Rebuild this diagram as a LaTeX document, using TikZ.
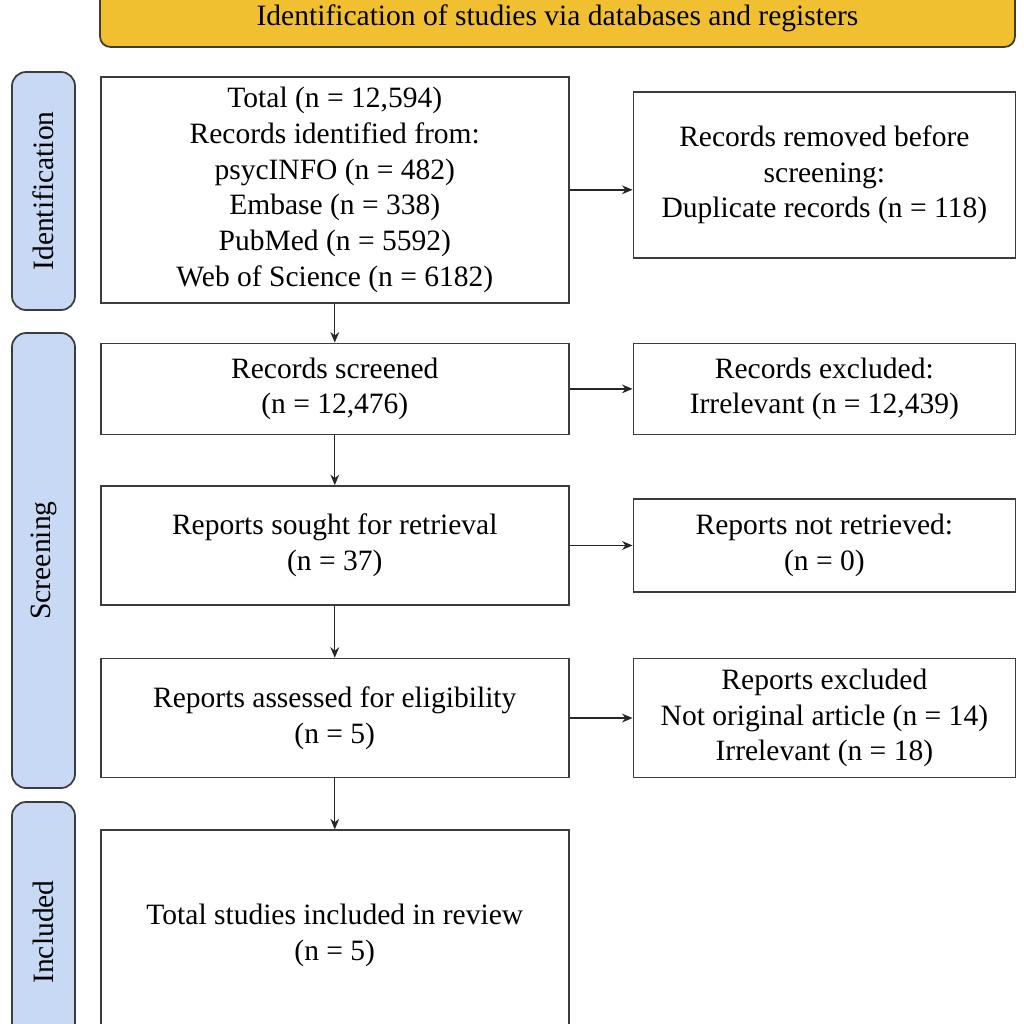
\documentclass[tikz,border=0pt]{standalone}
\usepackage{fontspec}
\setmainfont{Liberation Serif}
\usepackage{tikz}
\usetikzlibrary{arrows.meta, positioning}
\definecolor{bannerfill}{RGB}{240,192,48}
\definecolor{phasefill}{RGB}{199,217,245}
\definecolor{edgegray}{RGB}{60,60,60}
\tikzset{
  banner/.style = {
    rectangle, rounded corners=6pt, draw=edgegray, line width=1pt,
    fill=bannerfill, minimum width=18.3cm, minimum height=1.16cm,
    text centered
  },
  phase/.style = {
    rectangle, rounded corners=8pt, draw=edgegray, line width=1pt,
    fill=phasefill, rotate=90, minimum height=1.26cm,
    text centered
  },
  mainbox/.style = {
    rectangle, draw=edgegray, line width=0.9pt, fill=white,
    minimum width=9.36cm, text centered, align=center, inner sep=0pt
  },
  sidebox/.style = {
    rectangle, draw=edgegray, line width=0.9pt, fill=white,
    minimum width=7.64cm, text centered, align=center, inner sep=0pt
  },
  myarrow/.style = {-{Stealth[length=6pt,width=5pt]}, line width=0.8pt, black!85}
}

\begin{document}
\begin{tikzpicture}[
  node distance = 1cm and 1.26cm,   % vertical gap, horizontal gap
  every node/.style = {font=\fontsize{16.8}{20.3}\selectfont}
]
\clip (0,0) rectangle (20.48,-20.48);

% ----- HEADER AND PHASE BARS -----
\node[banner] (head) at (11.15,-0.36) {Identification of studies via databases and registers};
\node[phase, minimum width=4.76cm] (idbar)  at (0.87,-3.82)  {Identification};
\node[phase, minimum width=9.1cm]  (scrbar) at (0.87,-11.21) {Screening};
\node[phase, minimum width=5.2cm]  (incbar) at (0.87,-18.64) {Included};

% ----- NODES (main flow) -----
\node[mainbox, minimum height=4.52cm, anchor=north west] (ident) at (2.0,-1.52)
  {Total (n = 12,594)\\ Records identified from:\\ psycINFO (n = 482)\\ Embase (n = 338)\\ PubMed (n = 5592)\\ Web of Science (n = 6182)};
\node[mainbox, minimum height=1.82cm, below=0.78cm of ident]    (screened) {Records screened\\ (n = 12,476)};
\node[mainbox, minimum height=2.38cm, below=1.0cm of screened]  (sought)   {Reports sought for retrieval\\ (n = 37)};
\node[mainbox, minimum height=2.38cm, below=1.04cm of sought]   (assessed) {Reports assessed for eligibility\\ (n = 5)};
\node[mainbox, minimum height=4.2cm,  below=1.02cm of assessed] (included) {Total studies included in review\\ (n = 5)};

% ----- NODES (right column) -----
\node[sidebox, minimum height=3.32cm, right=of ident, yshift=0.3cm] (removed)
  {Records removed before\\ screening:\\ Duplicate records (n = 118)};
\node[sidebox, minimum height=1.82cm, right=of screened] (excluded) {Records excluded:\\ Irrelevant (n = 12,439)};
\node[sidebox, minimum height=1.86cm, right=of sought]   (notret)   {Reports not retrieved:\\ (n = 0)};
\node[sidebox, minimum height=2.38cm, right=of assessed] (repexcl)
  {Reports excluded\\ Not original article (n = 14)\\ Irrelevant (n = 18)};

% ----- ARROWS -----
\draw[myarrow] (ident.east) -- (ident.east -| removed.west);
\draw[myarrow] (screened) -- (excluded);
\draw[myarrow] (sought) -- (notret);
\draw[myarrow] (assessed) -- (repexcl);

\draw[myarrow] (ident) -- (screened);
\draw[myarrow] (screened) -- (sought);
\draw[myarrow] (sought) -- (assessed);
\draw[myarrow] (assessed) -- (included);

\end{tikzpicture}
\end{document}
